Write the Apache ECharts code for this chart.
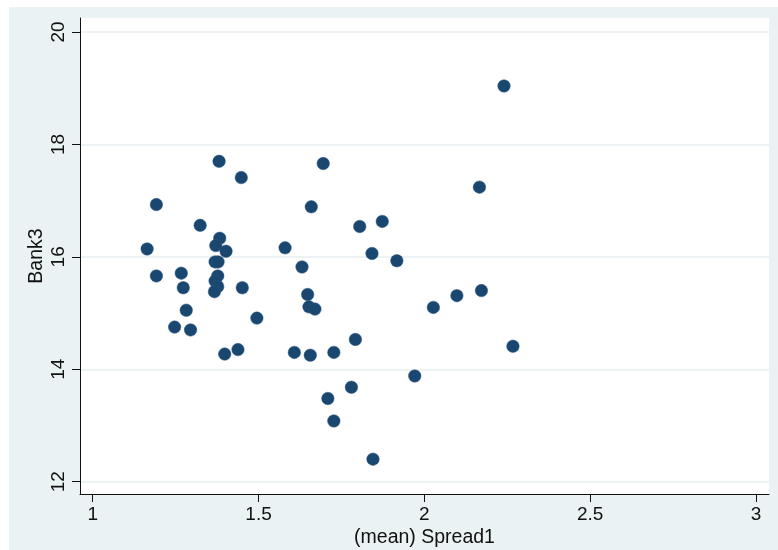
<!DOCTYPE html>
<html>
<head>
<meta charset="utf-8">
<script src="https://cdn.jsdelivr.net/npm/echarts@6/dist/echarts.min.js"></script>
<style>
  html, body { margin: 0; padding: 0; background: #ffffff; }
  #chart { width: 778px; height: 550px; }
</style>
</head>
<body>
<div id="chart"></div>
<script>
// Tick positions shown on each axis
const xTicks = [1, 1.5, 2, 2.5, 3];
const yTicks = [12, 14, 16, 18, 20];

// (mean) Spread1 against Bank3, one entry per observation
const spread1 = [
  2.240, 1.381, 1.448, 1.695, 2.166, 1.192, 1.659, 1.324, 1.805, 1.873,
  1.164, 1.383, 1.371, 1.402, 1.580, 1.842, 1.917, 1.369, 1.378, 1.631,
  1.192, 1.267, 1.377, 1.369, 1.377, 1.367, 1.273, 1.451, 1.648, 1.652,
  1.670, 2.027, 2.098, 2.172, 1.282, 1.495, 1.247, 1.295, 1.792, 1.398,
  1.438, 1.608, 1.656, 1.727, 2.267, 1.971, 1.780, 1.709, 1.727, 1.845
];
const bank3 = [
  19.04, 17.70, 17.41, 17.66, 17.24, 16.93, 16.89, 16.56, 16.54, 16.63,
  16.14, 16.33, 16.20, 16.10, 16.16, 16.06, 15.93, 15.91, 15.91, 15.82,
  15.66, 15.71, 15.66, 15.57, 15.47, 15.38, 15.45, 15.45, 15.33, 15.11,
  15.07, 15.10, 15.31, 15.40, 15.05, 14.91, 14.75, 14.70, 14.53, 14.27,
  14.35, 14.30, 14.25, 14.30, 14.41, 13.88, 13.68, 13.48, 13.08, 12.40
];

const points = spread1.map((x, i) => [x, bank3[i]]);

const FONT = '"Liberation Sans", Arial, Helvetica, sans-serif';
const PANEL = '#eaf2f3';
const INK = '#111111';

const chart = echarts.init(document.getElementById('chart'), null, { renderer: 'canvas' });

chart.setOption({
  backgroundColor: '#ffffff',
  animation: false,
  textStyle: { fontFamily: FONT },
  graphic: [
    {
      type: 'rect',
      z: -10,
      silent: true,
      shape: { x: 9, y: 7, width: 769, height: 543 },
      style: { fill: PANEL }
    }
  ],
  grid: {
    left: 80, right: 9, top: 18, bottom: 56,
    show: true,
    backgroundColor: '#ffffff',
    borderWidth: 0,
    containLabel: false,
    outerBoundsMode: 'none'
  },
  xAxis: {
    type: 'value',
    min: 0.9617,
    max: 3.039,
    name: '(mean) Spread1',
    nameLocation: 'middle',
    nameGap: 34,
    nameMoveOverlap: false,
    nameTextStyle: { color: INK, fontSize: 19.5, fontFamily: FONT },
    axisLine: { show: true, onZero: false, lineStyle: { color: INK, width: 1 } },
    axisTick: { show: true, inside: false, length: 8, customValues: xTicks, lineStyle: { color: INK, width: 1 } },
    axisLabel: { show: true, customValues: xTicks, margin: 11, color: INK, fontSize: 19, fontFamily: FONT },
    splitLine: { show: false }
  },
  yAxis: {
    type: 'value',
    min: 11.781,
    max: 20.249,
    name: 'Bank3',
    nameLocation: 'middle',
    nameGap: 33,
    nameRotate: 90,
    nameMoveOverlap: false,
    nameTextStyle: { color: INK, fontSize: 19.5, fontFamily: FONT },
    axisLine: { show: true, onZero: false, lineStyle: { color: INK, width: 1 } },
    axisTick: { show: true, inside: false, length: 8, customValues: yTicks, lineStyle: { color: INK, width: 1 } },
    axisLabel: { show: true, customValues: yTicks, rotate: 90, margin: 12, color: INK, fontSize: 19, fontFamily: FONT },
    splitLine: { show: true, lineStyle: { color: '#e7eff1', width: 1.5 } }
  },
  series: [
    {
      type: 'scatter',
      data: points,
      symbol: 'circle',
      symbolSize: 12.5,
      itemStyle: { color: '#1a476f', opacity: 1, borderColor: '#2a5680', borderWidth: 0.5 },
      emphasis: { disabled: true }
    }
  ]
});
</script>
</body>
</html>
